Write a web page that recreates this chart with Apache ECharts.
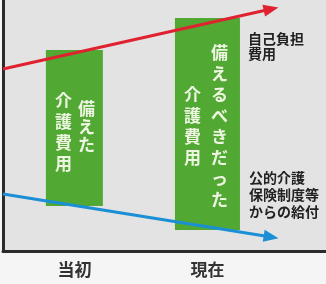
<!DOCTYPE html>
<html>
<head>
<meta charset="utf-8">
<script src="https://cdn.jsdelivr.net/npm/echarts@6/dist/echarts.min.js"></script>
<style>
html, body { margin: 0; padding: 0; background: #f5f5f5; }
#chart { width: 326px; height: 284px; }
</style>
</head>
<body>
<div id="chart"></div>
<script>
// 概念図のデータ（0〜100 の相対スケール）
var categories = ['当初', '現在'];
var barX = [22.1, 63.3];
var barLow = [17.9, 8.4];
var barHigh = [80.1, 92.8];
var barTextLeft = ['介護費用', '介護費用'];
var barTextRight = ['備えた', '備えるべきだった'];

var selfPayLine = [[0, 72.5], [83.0, 96.4]];
var publicLine = [[0, 22.7], [83.0, 5.6]];

var FONT = "'Noto Sans CJK JP', sans-serif";

var chart = echarts.init(document.getElementById('chart'));

/**
 * 縦書き風テキスト（1文字ずつ改行）
 */
var vertical = function (str) {
	return str.split('').join('\n');
};

// バー毎のレイアウト（px）
var barPx = [57, 65];
var colLayout = [
	{ left: { dx: -11, top: 90 }, right: { dx: 12, top: 100, lh: 18 } },
	{ left: { dx: -15, top: 84 }, right: { dx: 12, top: 42, lh: 21 } }
];

var barData = barX.map(function (x, i) {
	return [x, barLow[i], barHigh[i]];
});

var arrowLine = function (name, pts, color) {
	return {
		name: name,
		type: 'line',
		data: [],
		z: 5,
		markLine: {
			silent: true,
			animation: false,
			symbol: ['none', 'triangle'],
			symbolSize: [12, 15],
			label: { show: false },
			lineStyle: { color: color, width: 3, type: 'solid' },
			data: [[{ coord: pts[0] }, { coord: pts[1] }]]
		}
	};
};

var option = {
	backgroundColor: '#f5f5f5',
	animation: false,
	grid: {
		left: 3, right: 0, top: 0, bottom: 33,
		show: true,
		backgroundColor: '#e3e3e3',
		borderWidth: 0
	},
	xAxis: {
		type: 'value',
		min: 0,
		max: 100,
		splitLine: { show: false },
		axisTick: { show: false },
		axisLine: { show: true, onZero: false, lineStyle: { color: '#2b2b2b', width: 3 } },
		axisLabel: {
			customValues: barX,
			formatter: function (v) {
				var i = barX.indexOf(v);
				return i >= 0 ? categories[i] : '';
			},
			margin: 10,
			color: '#333',
			fontSize: 17,
			fontWeight: 'bold',
			fontFamily: FONT
		}
	},
	yAxis: {
		type: 'value',
		min: 0,
		max: 100,
		splitLine: { show: false },
		axisTick: { show: false },
		axisLabel: { show: false },
		axisLine: { show: true, lineStyle: { color: '#2b2b2b', width: 3 } }
	},
	series: [
		{
			type: 'custom',
			z: 2,
			data: barData,
			encode: { x: 0, y: [1, 2] },
			renderItem: function (params, api) {
				var i = params.dataIndex;
				var x = api.value(0);
				var top = api.coord([x, api.value(2)]);
				var bottom = api.coord([x, api.value(1)]);
				var w = barPx[i];
				var lay = colLayout[i];
				var textStyle = function (str, dx, y, lh) {
					return {
						type: 'text',
						style: {
							text: vertical(str),
							x: top[0] + dx,
							y: y,
							fill: '#eef6e2',
							fontSize: 17,
							fontWeight: 'bold',
							fontFamily: FONT,
							lineHeight: lh,
							align: 'center',
							textAlign: 'center',
							verticalAlign: 'top',
							textVerticalAlign: 'top'
						}
					};
				};
				return {
					type: 'group',
					children: [
						{
							type: 'rect',
							shape: { x: top[0] - w / 2, y: top[1], width: w, height: bottom[1] - top[1] },
							style: { fill: '#51a832' }
						},
						textStyle(barTextLeft[i], lay.left.dx, lay.left.top, 21),
						textStyle(barTextRight[i], lay.right.dx, lay.right.top, lay.right.lh)
					]
				};
			}
		},
		arrowLine('自己負担費用', selfPayLine, '#e0212f'),
		arrowLine('公的介護保険制度等からの給付', publicLine, '#1b8fd6')
	],
	graphic: [
		{
			type: 'text',
			left: 248,
			top: 31,
			style: {
				text: '自己負担\n費用',
				fill: '#222',
				fontSize: 14,
				fontWeight: 'bold',
				fontFamily: FONT,
				lineHeight: 15
			}
		},
		{
			type: 'text',
			left: 249,
			top: 169,
			style: {
				text: '公的介護\n保険制度等\nからの給付',
				fill: '#222',
				fontSize: 14,
				fontWeight: 'bold',
				fontFamily: FONT,
				lineHeight: 17
			}
		}
	]
};

chart.setOption(option);
</script>
</body>
</html>
